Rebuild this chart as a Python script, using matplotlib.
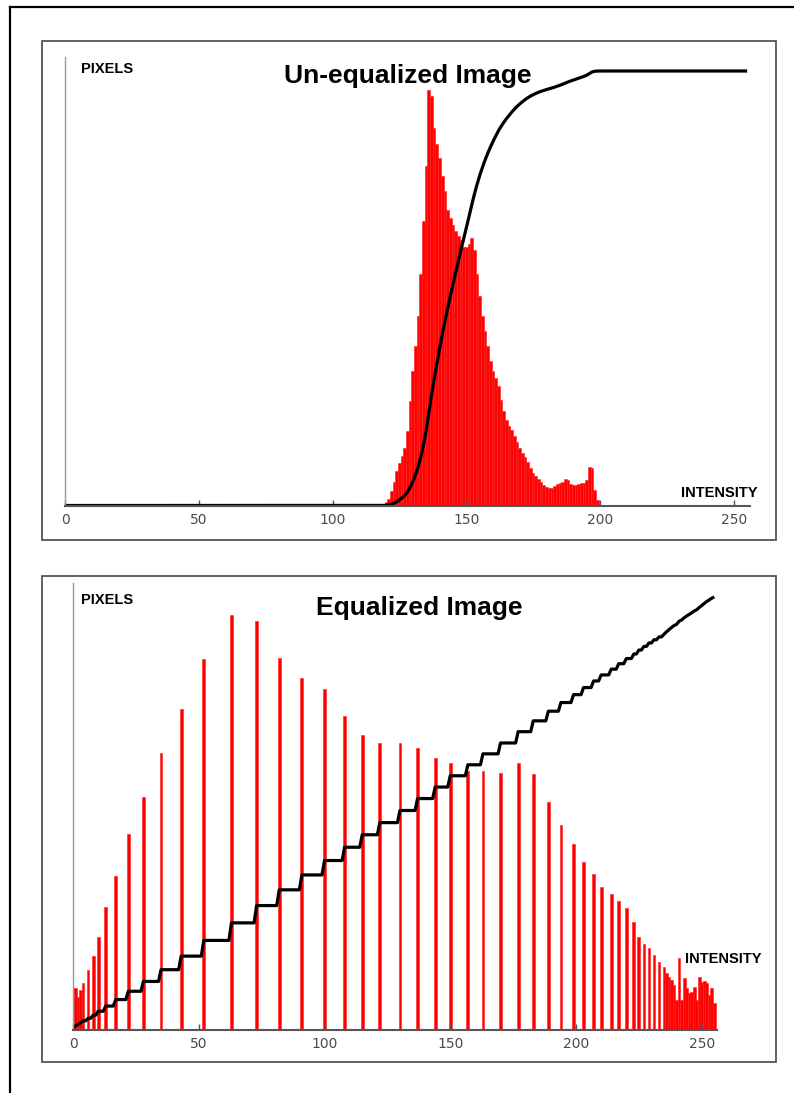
import numpy as np
import matplotlib
matplotlib.use('Agg')
import matplotlib.pyplot as plt
from matplotlib.patches import Rectangle
from matplotlib.lines import Line2D

W, H = 794, 1093

# un-equalized histogram (counts for intensities 118..200, zero elsewhere)
raw_levels = list(range(118, 201))
raw_counts = [0, 2, 4, 7, 15, 24, 35, 43, 50, 58,
              75, 105, 135, 160, 190, 232, 285, 340, 416, 410,
              378, 362, 348, 330, 315, 296, 288, 281, 275, 270,
              266, 259, 259, 262, 268, 256, 232, 210, 190, 175,
              160, 145, 135, 128, 120, 106, 95, 86, 80, 76,
              70, 64, 58, 53, 49, 44, 38, 33, 30, 27,
              24, 21, 19, 18, 18, 20, 22, 23, 24, 27,
              26, 22, 21, 21, 22, 23, 23, 26, 39, 38,
              16, 6, 1]

# equalized histogram: spikes at the remapped levels
eq_levels = [0, 1, 2, 3, 4, 6, 8, 10, 13, 17, 22, 28, 35, 43, 52, 63, 73, 82, 91, 100,
             108, 115, 122, 130, 137, 144, 150, 157, 163, 170, 177, 183, 189, 194, 199, 203,
             207, 210, 214, 217, 220, 223, 225, 227, 229, 231, 233, 235,
             236, 237, 238, 239, 240, 241, 242, 243, 244, 245, 246, 247, 248, 249, 250,
             251, 252, 253, 254, 255]
eq_counts = [42, 42, 33, 40, 47, 60, 74, 93, 123, 154, 196, 233, 277, 321, 371, 415, 409, 372, 352, 341,
             314, 295, 287, 287, 282, 272, 267, 259, 259, 257, 267, 256, 228, 205, 186, 168,
             156, 143, 136, 129, 122, 108, 93, 86, 82, 75, 68, 63,
             57, 53, 50, 45, 30, 72, 30, 52, 42, 37, 38, 43, 30, 53, 48,
             49, 47, 35, 42, 27]

xticks = [0, 50, 100, 150, 200, 250]

def fx(px):
    return px / W

def fy(py):
    return 1 - py / H

def full_hist(levels, counts):
    h = np.zeros(256)
    h[np.array(levels)] = counts
    return h

def draw_panel(ax, levels, counts, ymax, cdf_top, bar_w):
    h = full_hist(levels, counts)
    ax.bar(np.arange(256), h, width=bar_w, color='#ff0000', edgecolor='#ff2020', linewidth=0.4)
    cdf = np.cumsum(h) / h.sum() * cdf_top
    ax.plot(np.arange(256), cdf, color='black', lw=2.3, solid_capstyle='butt')
    ax.set_xlim(0, 256)
    ax.set_ylim(0, ymax)
    ax.set_xticks(xticks)
    ax.set_yticks([])
    ax.tick_params(axis='x', direction='in', length=4, color='#555555', width=1,
                   labelcolor='#4a4a4a', labelsize=10, pad=5.5)
    for s in ['top', 'right']:
        ax.spines[s].set_visible(False)
    ax.spines['left'].set_color('#999999')
    ax.spines['left'].set_linewidth(1)
    ax.spines['bottom'].set_color('#555555')
    ax.spines['bottom'].set_linewidth(1.5)
    ax.spines['bottom'].set_zorder(3)

fig = plt.figure(figsize=(W / 100, H / 100), dpi=100)
fig.patch.set_facecolor('white')

# outer page frame
fig.add_artist(Line2D([fx(10), fx(10)], [fy(6.5), -0.01], color='black', lw=1.6))
fig.add_artist(Line2D([fx(10), 1.01], [fy(6.5), fy(6.5)], color='black', lw=1.6))

# panel boxes
for top, bot in [(41, 540), (576, 1062)]:
    fig.add_artist(Rectangle((fx(42), fy(bot)), (776 - 42) / W, (bot - top) / H,
                             transform=fig.transFigure, fill=False,
                             edgecolor='#555555', lw=1.3))

ax1 = fig.add_axes([fx(65), fy(505.5), 256 * 2.675 / W, 448.5 / H])
draw_panel(ax1, raw_levels, raw_counts, 448.5, 434.5, 1.0)

ax2 = fig.add_axes([fx(73), fy(1029.5), 256 * 2.515 / W, 446.5 / H])
draw_panel(ax2, eq_levels, eq_counts, 446.5, 432.5, 1.1)

lab = dict(fontsize=10.5, fontweight='bold', family='Liberation Sans', va='baseline')
ttl = dict(fontsize=19, fontweight='bold', family='Liberation Sans', va='baseline', ha='center')

fig.text(fx(408), fy(83), 'Un-equalized Image', **ttl)
fig.text(fx(81.5), fy(73.3), 'PIXELS', ha='left', **lab)
fig.text(fx(757), fy(497.3), 'INTENSITY', ha='right', **lab)

fig.text(fx(419), fy(615), 'Equalized Image', **ttl)
fig.text(fx(81.5), fy(604.3), 'PIXELS', ha='left', **lab)
fig.text(fx(762), fy(963.3), 'INTENSITY', ha='right', **lab)

fig.savefig('out.png', dpi=100)
